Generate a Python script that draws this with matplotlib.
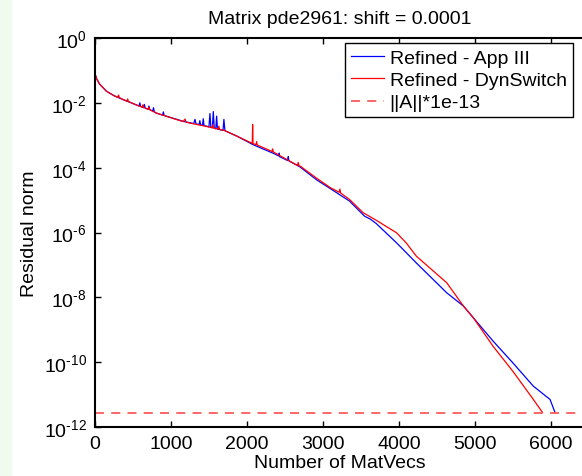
import matplotlib
matplotlib.use("Agg")
import matplotlib.pyplot as plt
import numpy as np

plt.rcParams["font.family"] = ["Liberation Sans", "DejaVu Sans"]
plt.rcParams["mathtext.fontset"] = "custom"
plt.rcParams["mathtext.rm"] = "Liberation Sans"
plt.rcParams["mathtext.it"] = "Liberation Sans"

# residual history (log10 of residual norm)
app3_mv = [0, 20, 60, 150, 250, 370, 550, 580, 590, 600, 640, 650, 660, 700,
           710, 720, 760, 770, 780, 800, 890, 900, 910, 1160, 1300, 1316, 1330,
           1370, 1380, 1390, 1415, 1425, 1435, 1500, 1513, 1525, 1545, 1557,
           1570, 1590, 1601, 1612, 1685, 1697, 1710, 1870, 2080, 2350, 2420,
           2425, 2430, 2535, 2544, 2552, 2700, 2920, 3100, 3350, 3550, 3620,
           3700, 3970, 4230, 4630, 4850, 4980, 5240, 5500, 5770, 5990, 6055]
app3_log = [-1.10, -1.25, -1.42, -1.64, -1.78, -1.90, -2.07, -2.10, -2.00,
            -2.11, -2.15, -2.05, -2.16, -2.20, -2.10, -2.21, -2.25, -2.15,
            -2.27, -2.31, -2.38, -2.28, -2.39, -2.57, -2.64, -2.51, -2.65,
            -2.67, -2.55, -2.68, -2.69, -2.49, -2.70, -2.74, -2.33, -2.75,
            -2.77, -2.27, -2.78, -2.80, -2.41, -2.81, -2.85, -2.51, -2.86,
            -3.03, -3.29, -3.56, -3.64, -3.55, -3.66, -3.78, -3.66, -3.79,
            -3.98, -4.38, -4.65, -5.03, -5.50, -5.58, -5.72, -6.32, -6.94,
            -7.86, -8.27, -8.63, -9.35, -10.02, -10.74, -11.15, -11.55]

dyn_mv = [0, 20, 60, 150, 250, 300, 310, 320, 370, 420, 430, 440, 550, 620,
          630, 640, 700, 710, 720, 800, 1160, 1184, 1200, 1470, 1540, 1550,
          1560, 1620, 1630, 1640, 1700, 1870, 2070, 2075, 2080, 2120, 2127,
          2135, 2330, 2338, 2346, 2350, 2665, 2675, 2685, 2700, 2920, 3100,
          3215, 3224, 3233, 3350, 3530, 3700, 3970, 4100, 4230, 4630, 4850,
          4980, 5240, 5500, 5770, 5890]
dyn_log = [-1.10, -1.25, -1.42, -1.64, -1.78, -1.83, -1.76, -1.84, -1.90,
           -1.95, -1.88, -1.96, -2.07, -2.13, -2.06, -2.14, -2.20, -2.13,
           -2.21, -2.31, -2.58, -2.50, -2.60, -2.73, -2.77, -2.68, -2.78,
           -2.81, -2.72, -2.82, -2.85, -3.03, -3.25, -2.67, -3.26, -3.29,
           -3.20, -3.30, -3.50, -3.42, -3.51, -3.52, -3.93, -3.84, -3.94,
           -3.95, -4.33, -4.62, -4.76, -4.66, -4.78, -4.98, -5.39, -5.62,
           -6.01, -6.33, -6.73, -7.55, -8.27, -8.63, -9.51, -10.28, -11.15,
           -11.55]

norm_A = 28.0
tol = norm_A * 1e-13

fig = plt.figure(figsize=(5.82, 4.77), dpi=100, facecolor="white")
strip = plt.Rectangle((0, 0), 11 / 582, 1, transform=fig.transFigure,
                      color="#f0fbf0", zorder=-5)
fig.patches.append(strip)
# axes run a little past the right edge of the picture, as in the reference
ax = fig.add_axes([95 / 582, 49 / 477, 490 / 582, 389 / 477])

ax.semilogy(app3_mv, 10 ** np.array(app3_log), color="#0000ff", lw=0.9,
            label="Refined - App III")
ax.semilogy(dyn_mv, 10 ** np.array(dyn_log), color="#ff0000", lw=0.9,
            label="Refined - DynSwitch")
ax.axhline(tol, color="#ff5a5a", lw=1.3, ls=(0, (5, 4)), label="||A||*1e-13")

ax.set_xlim(0, 6450)
ax.set_ylim(1e-12, 1)
ax.set_xticks([0, 1000, 2000, 3000, 4000, 5000, 6000])
ax.set_yticks([10.0 ** k for k in range(-12, 1, 2)])
ax.set_yticklabels([r"$10^{\text{%d}}$" % k for k in range(-12, 1, 2)])
ax.minorticks_off()
ax.tick_params(direction="in", top=True, right=False, length=4, width=1,
               labelsize=14, pad=6)
ax.spines["right"].set_visible(False)
for s in ax.spines.values():
    s.set_linewidth(1.5)

ax.set_xlabel("Number of MatVecs", fontsize=14, labelpad=1)
ax.set_ylabel("Residual norm", fontsize=14)
ax.yaxis.set_label_coords(-57 / 490, 0.5)
ax.set_title("Matrix pde2961: shift = 0.0001", fontsize=14, pad=11)

leg = ax.legend(loc="upper left", bbox_to_anchor=(250 / 490, 0.987),
                borderaxespad=0, fontsize=14, fancybox=False, framealpha=1,
                edgecolor="black", handlelength=1.7, handletextpad=0.3,
                labelspacing=0.25, borderpad=0.3)
leg.get_frame().set_linewidth(1.0)

fig.savefig("out.png", dpi=100, facecolor=fig.get_facecolor())
